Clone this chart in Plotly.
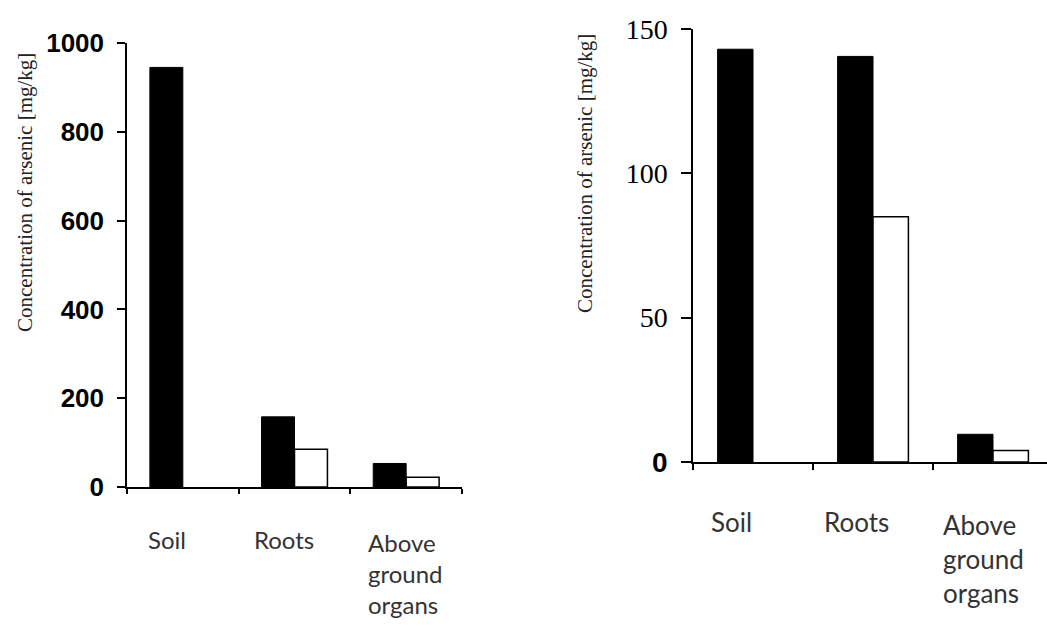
import plotly.graph_objects as go

W, H = 1047, 641

categories = ["Soil", "Roots", "Above ground organs"]
cat_labels = ["Soil", "Roots", "Above<br>ground<br>organs"]

# Left panel values (mg/kg)
left_black = [945, 158, 53]
left_white = [None, 85, 22]

# Right panel values (mg/kg)
right_black = [143, 140.5, 9.6]
right_white = [None, 85, 4]

left_ticks = [0, 200, 400, 600, 800, 1000]
right_ticks = [0, 50, 100, 150]
right_ticktext = ["<b><span style='font-family:Liberation Sans'>0</span></b>", "50", "100", "150"]

ytitle = "Concentration of arsenic [mg/kg]"


def px_x(p):
    return p / W


def px_y(p):
    return (H - p) / H


fig = go.Figure()

black_style = dict(color="#000000", line=dict(color="#000000", width=1))
white_style = dict(color="#ffffff", line=dict(color="#000000", width=1.5))

fig.add_trace(go.Bar(x=categories, y=left_black, marker=black_style, name="Series A",
                     xaxis="x", yaxis="y", showlegend=False))
fig.add_trace(go.Bar(x=categories, y=left_white, marker=white_style, name="Series B",
                     xaxis="x", yaxis="y", showlegend=False))
fig.add_trace(go.Bar(x=categories, y=right_black, marker=black_style, name="Series A",
                     xaxis="x2", yaxis="y2", showlegend=False))
fig.add_trace(go.Bar(x=categories, y=right_white, marker=white_style, name="Series B",
                     xaxis="x2", yaxis="y2", showlegend=False))

axis_common = dict(showgrid=False, zeroline=False, showline=True, linecolor="#000",
                   linewidth=1.5, ticks="outside", tickcolor="#000", tickwidth=1.5,
                   automargin=False)

fig.update_layout(
    width=W, height=H,
    margin=dict(l=0, r=0, t=0, b=0, pad=0, autoexpand=False),
    paper_bgcolor="white", plot_bgcolor="white",
    barmode="group", bargap=0.41, bargroupgap=0,
    showlegend=False,
    xaxis=dict(domain=[px_x(127), px_x(462)], range=[-0.5, 2.5], type="category",
               tickson="boundaries", ticklen=5, showticklabels=False, anchor="y",
               **axis_common),
    yaxis=dict(domain=[px_y(487), px_y(43)], range=[0, 1000], tickvals=left_ticks,
               ticklen=8, anchor="x", ticklabelstandoff=8,
               tickfont=dict(family="Liberation Sans", size=26, color="#000", weight="bold"),
               **axis_common),
    xaxis2=dict(domain=[px_x(693), 1.0], range=[-0.5, 2.45], type="category",
                tickson="boundaries", ticklen=6, showticklabels=False, anchor="y2",
                **axis_common),
    yaxis2=dict(domain=[px_y(462), px_y(29)], range=[0, 150], tickvals=right_ticks,
                ticktext=right_ticktext, ticklen=10, anchor="x2", ticklabelstandoff=8,
                tickfont=dict(family="Liberation Serif", size=28, color="#000"),
                **axis_common),
)

# axis line extensions to the left of the y axes
fig.add_shape(type="line", xref="paper", yref="y", x0=px_x(117), x1=px_x(127), y0=0, y1=0,
              line=dict(color="#000", width=1.5))
fig.add_shape(type="line", xref="paper", yref="y2", x0=px_x(683), x1=px_x(693), y0=0, y1=0,
              line=dict(color="#000", width=1.5))

# y axis titles
fig.add_annotation(text=ytitle, xref="paper", yref="paper", x=px_x(25), y=px_y(193),
                   textangle=-90, showarrow=False, xanchor="center", yanchor="middle",
                   font=dict(family="Liberation Serif", size=21, color="#222"))
fig.add_annotation(text=ytitle, xref="paper", yref="paper", x=px_x(585), y=px_y(174),
                   textangle=-90, showarrow=False, xanchor="center", yanchor="middle",
                   font=dict(family="Liberation Serif", size=21, color="#222"))

# category labels
left_shift = [-16, -11, -1]
left_top = [523, 523, 526]
right_shift = [-22, -17, -10]
right_top = [504, 504, 507]
for i, c in enumerate(categories):
    fig.add_annotation(text=cat_labels[i], xref="x", yref="paper", x=c, xshift=left_shift[i],
                       y=px_y(left_top[i]), yanchor="top", xanchor="center", align="left",
                       showarrow=False, font=dict(family="Lato", size=24, color="#333"))
    fig.add_annotation(text=cat_labels[i], xref="x2", yref="paper", x=c, xshift=right_shift[i],
                       y=px_y(right_top[i]), yanchor="top", xanchor="center", align="left",
                       showarrow=False, font=dict(family="Lato", size=26, color="#333"))

fig.write_html(
    "out.html",
    config={"displayModeBar": False},
    post_script="document.body.style.margin='0';document.body.style.overflow='hidden';",
)
